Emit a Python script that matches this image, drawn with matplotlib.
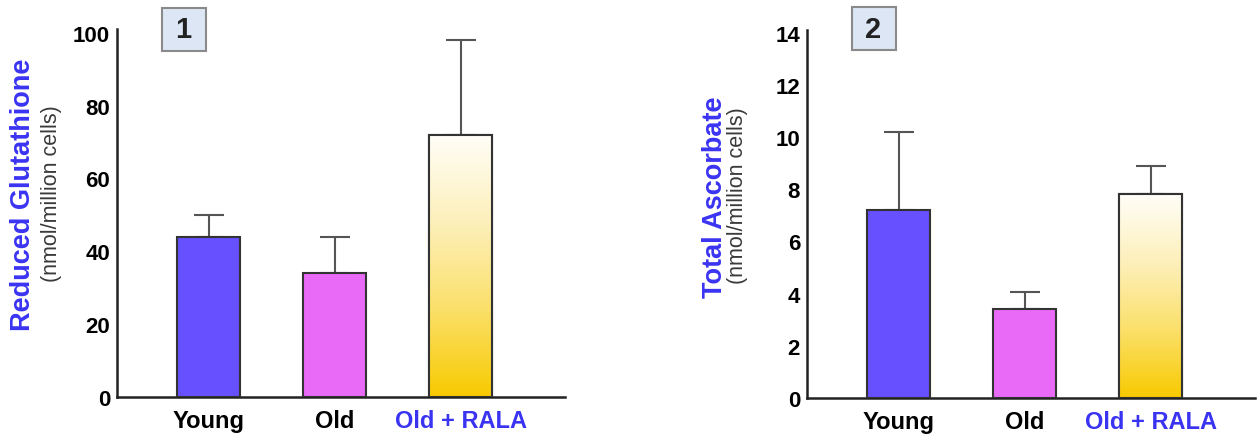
import numpy as np
import matplotlib
matplotlib.use("Agg")
import matplotlib.pyplot as plt
from matplotlib.colors import LinearSegmentedColormap
from matplotlib.patches import Rectangle

# data
groups = ["Young", "Old", "Old + RALA"]
label_colors = ["black", "black", "#3a33f2"]

gsh_mean = [44, 34, 72]
gsh_err = [6, 10, 26]

asc_mean = [7.2, 3.4, 7.8]
asc_err = [3.0, 0.67, 1.1]

bar_colors = ["#6650ff", "#e86af7", None]
blue = "#3a33f2"

plt.rcParams['font.family'] = ['Liberation Sans', 'DejaVu Sans']

W, H = 1259, 435
fig = plt.figure(figsize=(W / 100, H / 100), dpi=100)

gold = LinearSegmentedColormap.from_list("gold", ["#f8ca00", "#fbe06a", "#fdf0bb", "#fffef8"])


def draw_panel(ax, means, errs, ymax, yticks):
    x = np.arange(len(means))
    bars = ax.bar(x, means, width=0.5, color=[c if c else "white" for c in bar_colors],
                  edgecolor="#333333", linewidth=1.5, zorder=3)
    # gradient fill for the RALA bar
    b = bars[2]
    grad = np.linspace(0, 1, 256).reshape(-1, 1)
    im = ax.imshow(grad, cmap=gold, origin="lower", aspect="auto", zorder=3.5,
                   extent=[b.get_x(), b.get_x() + b.get_width(), 0, b.get_height()])
    im.set_clip_path(b)
    ax.bar(x[2], means[2], width=0.5, fill=False, edgecolor="#333333", linewidth=1.5, zorder=4)
    ax.errorbar(x, means, yerr=[np.zeros(len(errs)), errs], fmt="none", ecolor="#555555",
                elinewidth=1.5, capsize=11, capthick=1.5, zorder=2)

    ax.set_xlim(-0.73, 2.83)
    ax.set_ylim(0, ymax)
    ax.set_yticks(yticks)
    ax.set_yticklabels([str(t) for t in yticks], fontsize=16, fontweight="bold")
    ax.set_xticks(x)
    ax.set_xticklabels(groups, fontsize=17, fontweight="bold")
    for lbl, c in zip(ax.get_xticklabels(), label_colors):
        lbl.set_color(c)
    ax.tick_params(axis="both", length=0)
    ax.tick_params(axis="y", pad=5)
    ax.tick_params(axis="x", pad=9)
    for s in ["top", "right"]:
        ax.spines[s].set_visible(False)
    for s in ["left", "bottom"]:
        ax.spines[s].set_linewidth(1.8)
        ax.spines[s].set_color("#222222")


def panel_box(cx, cy, text):
    w, h = 44, 43
    fig.patches.append(Rectangle(((cx - w / 2) / W, 1 - (cy + h / 2) / H), w / W, h / H,
                                 transform=fig.transFigure, facecolor="#dce6f4",
                                 edgecolor="#8a8a8a", linewidth=1.5))
    fig.text(cx / W, 1 - cy / H, text, ha="center", va="center",
             fontsize=21, fontweight="bold", color="#222222")


ax1 = fig.add_axes([117 / W, 37 / H, 448 / W, 368 / H])
draw_panel(ax1, gsh_mean, gsh_err, 101, [0, 20, 40, 60, 80, 100])

ax2 = fig.add_axes([807 / W, 36 / H, 448 / W, 368 / H])
draw_panel(ax2, asc_mean, asc_err, 14.1, [0, 2, 4, 6, 8, 10, 12, 14])

# y-axis titles
fig.text(23 / W, 1 - 195 / H, "Reduced Glutathione", rotation=90, ha="center", va="center",
         fontsize=19.5, fontweight="bold", color=blue)
fig.text(52 / W, 1 - 194 / H, "(nmol/million cells)", rotation=90, ha="center", va="center",
         fontsize=15.5, color="#3a3a3a")
fig.text(715 / W, 1 - 197 / H, "Total Ascorbate", rotation=90, ha="center", va="center",
         fontsize=19.5, fontweight="bold", color=blue)
fig.text(738 / W, 1 - 196 / H, "(nmol/million cells)", rotation=90, ha="center", va="center",
         fontsize=15.5, color="#3a3a3a")

panel_box(183.5, 30, "1")
panel_box(873.5, 29.5, "2")

fig.savefig("out.png", dpi=100)
